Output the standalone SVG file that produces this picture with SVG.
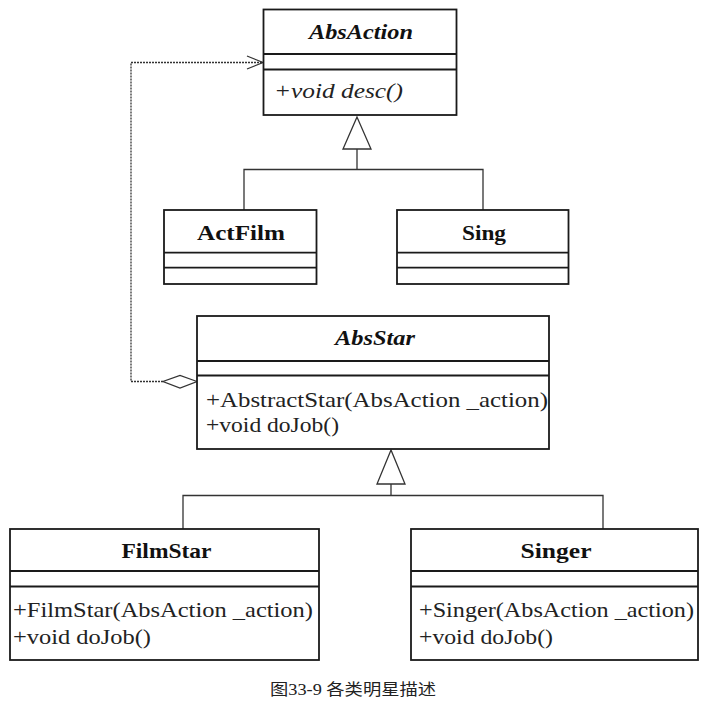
<svg xmlns="http://www.w3.org/2000/svg" width="706" height="706" viewBox="0 0 706 706">
<style>
.box{fill:#fff;stroke:#1a1a1a;stroke-width:1.8}
.div{stroke:#1a1a1a;stroke-width:1.8}
.ln{fill:none;stroke:#333;stroke-width:1.3}
.dash{fill:none;stroke:#333;stroke-width:1.3;stroke-dasharray:2 1}
.tri{fill:#fff;stroke:#333;stroke-width:1.3}
text{font-family:'Liberation Serif','Times New Roman',serif}
.t{font-weight:bold;font-size:21px;fill:#111;text-anchor:middle}
.ti{font-style:italic}
.m{font-size:22px;fill:#222}
.cap{font-family:'Liberation Serif','Noto Sans CJK SC',serif;font-size:16px;fill:#222;text-anchor:middle}
</style>
<rect width="706" height="706" fill="#fff"/>
<g id="connectors">
  <path class="ln" d="M244,210 V169.5 H483 V210 M357,169.5 V149"/>
  <polygon class="tri" points="357,117 343,149 371,149"/>
  <path class="ln" d="M183,529 V495.5 H603 V529 M391,495.5 V484"/>
  <polygon class="tri" points="391,450 377,484 405,484"/>
  <path class="dash" d="M163,381.5 H131 V62.5 H263"/>
  <path class="ln" d="M247,56 L263,62.5 L247,69"/>
  <polygon class="tri" points="197,381.5 180,375.5 163,381.5 180,388"/>
</g>
<g id="AbsAction">
  <rect class="box" x="263.5" y="9.5" width="193" height="105.5"/>
  <line class="div" x1="263.5" y1="54" x2="456.5" y2="54"/>
  <line class="div" x1="263.5" y1="69.5" x2="456.5" y2="69.5"/>
  <text class="t ti" x="361" y="39" textLength="104" lengthAdjust="spacingAndGlyphs">AbsAction</text>
  <text class="m ti" x="274" y="98" textLength="129" lengthAdjust="spacingAndGlyphs">+void desc()</text>
</g>
<g id="ActFilm">
  <rect class="box" x="164" y="210" width="152.5" height="74"/>
  <line class="div" x1="164" y1="252.7" x2="316.5" y2="252.7"/>
  <line class="div" x1="164" y1="267.7" x2="316.5" y2="267.7"/>
  <text class="t" x="241" y="240" textLength="88" lengthAdjust="spacingAndGlyphs">ActFilm</text>
</g>
<g id="Sing">
  <rect class="box" x="397" y="210" width="171.5" height="74"/>
  <line class="div" x1="397" y1="252.7" x2="568.5" y2="252.7"/>
  <line class="div" x1="397" y1="267.7" x2="568.5" y2="267.7"/>
  <text class="t" x="484" y="240" textLength="44" lengthAdjust="spacingAndGlyphs">Sing</text>
</g>
<g id="AbsStar">
  <rect class="box" x="197" y="316" width="352" height="133"/>
  <line class="div" x1="197" y1="361" x2="549" y2="361"/>
  <line class="div" x1="197" y1="375.5" x2="549" y2="375.5"/>
  <text class="t ti" x="375" y="345" textLength="80" lengthAdjust="spacingAndGlyphs">AbsStar</text>
  <text class="m" x="206" y="406.5" textLength="342" lengthAdjust="spacingAndGlyphs">+AbstractStar(AbsAction _action)</text>
  <text class="m" x="206" y="432" textLength="133" lengthAdjust="spacingAndGlyphs">+void doJob()</text>
</g>
<g id="FilmStar">
  <rect class="box" x="10" y="529" width="309" height="131"/>
  <line class="div" x1="10" y1="571" x2="319" y2="571"/>
  <line class="div" x1="10" y1="586.5" x2="319" y2="586.5"/>
  <text class="t" x="166.5" y="558" textLength="90" lengthAdjust="spacingAndGlyphs">FilmStar</text>
  <text class="m" x="13" y="617" textLength="300" lengthAdjust="spacingAndGlyphs">+FilmStar(AbsAction _action)</text>
  <text class="m" x="13" y="644" textLength="138" lengthAdjust="spacingAndGlyphs">+void doJob()</text>
</g>
<g id="Singer">
  <rect class="box" x="411" y="529" width="287" height="131"/>
  <line class="div" x1="411" y1="571" x2="698" y2="571"/>
  <line class="div" x1="411" y1="586.5" x2="698" y2="586.5"/>
  <text class="t" x="556" y="558" textLength="71" lengthAdjust="spacingAndGlyphs">Singer</text>
  <text class="m" x="419" y="617" textLength="275" lengthAdjust="spacingAndGlyphs">+Singer(AbsAction _action)</text>
  <text class="m" x="419" y="644" textLength="134" lengthAdjust="spacingAndGlyphs">+void doJob()</text>
</g>
<text class="cap" x="353" y="695" textLength="166" lengthAdjust="spacingAndGlyphs">图33-9 各类明星描述</text>
</svg>
